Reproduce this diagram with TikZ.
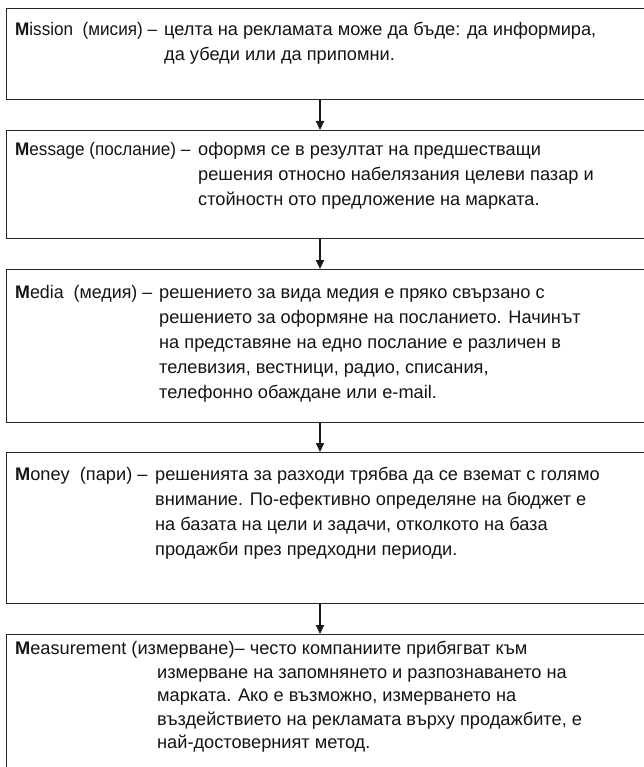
\documentclass[tikz,border=0pt]{standalone}
\usepackage{graphicx}
\usepackage{fontspec}
\setmainfont{Liberation Sans}
\usetikzlibrary{arrows.meta}
\newcommand\lbl[3]{\makebox[#1][l]{\scalebox{#2}[1]{#3}}}
\begin{document}
\begin{tikzpicture}[x=1pt,y=-1pt,
  box/.style={draw=black!85, line width=1.2pt, anchor=north west, minimum width=660pt, inner sep=0pt},
  txt/.style={anchor=north west, inner sep=0pt, font=\fontsize{18.2}{25}\selectfont, text=black!92, align=left},
  flow/.style={draw=black!90, line width=2pt, -{Triangle[length=9pt,width=8pt]}}
]
\useasboundingbox (0,0) rectangle (644,767);
\coordinate (ax) at (320,0);
\node[box, minimum height=91pt]  (b1) at (6,8)   {};
\node[box, minimum height=108pt] (b2) at (6,130) {};
\node[box, minimum height=153pt] (b3) at (6,269) {};
\node[box, minimum height=151pt] (b4) at (6,452) {};
\node[box, minimum height=160pt] (b5) at (6,634) {};

\node[txt] (t1) at (15,18) {\begin{tabular}{@{}l@{}l@{}}
\lbl{149pt}{0.94}{\textbf{M}ission~~(мисия) –} & целта на рекламата може да бъде: да информира,\\
 & да убеди или да припомни.
\end{tabular}};
\node[txt] (t2) at (15,138) {\begin{tabular}{@{}l@{}l@{}}
\lbl{183pt}{0.94}{\textbf{M}essage (послание) –} & оформя се в резултат на предшестващи\\
 & решения относно набелязания целеви пазар и\\
 & стойностн ото предложение на марката.
\end{tabular}};
\node[txt] (t3) at (15,281) {\begin{tabular}{@{}l@{}l@{}}
\lbl{144pt}{0.98}{\textbf{M}edia~~(медия) –} & решението за вида медия е пряко свързано с\\
 & решението за оформяне на посланието. Начинът\\
 & на представяне на едно послание е различен в\\
 & телевизия, вестници, радио, списания,\\
 & телефонно обаждане или e-mail.
\end{tabular}};
\node[txt] (t4) at (15,463) {\begin{tabular}{@{}l@{}l@{}}
\lbl{140pt}{1}{\textbf{M}oney~~(пари) –} & решенията за разходи трябва да се вземат с голямо\\
 & внимание. По-ефективно определяне на бюджет е\\
 & на базата на цели и задачи, отколкото на база\\
 & продажби през предходни периоди.
\end{tabular}};
\node[txt, font=\fontsize{18.2}{23.5}\selectfont] (t5) at (15,641) {\textbf{M}easurement (измерване)– често компаниите прибягват към\\
\hspace*{142pt}измерване на запомнянето и разпознаването на\\
\hspace*{142pt}марката. Ако е възможно, измерването на\\
\hspace*{142pt}въздействието на рекламата върху продажбите, е\\
\hspace*{142pt}най-достоверният метод.};

\draw[flow] (b1.south -| ax) -- (b2.north -| ax);
\draw[flow] (b2.south -| ax) -- (b3.north -| ax);
\draw[flow] (b3.south -| ax) -- (b4.north -| ax);
\draw[flow] (b4.south -| ax) -- (b5.north -| ax);
\end{tikzpicture}
\end{document}
